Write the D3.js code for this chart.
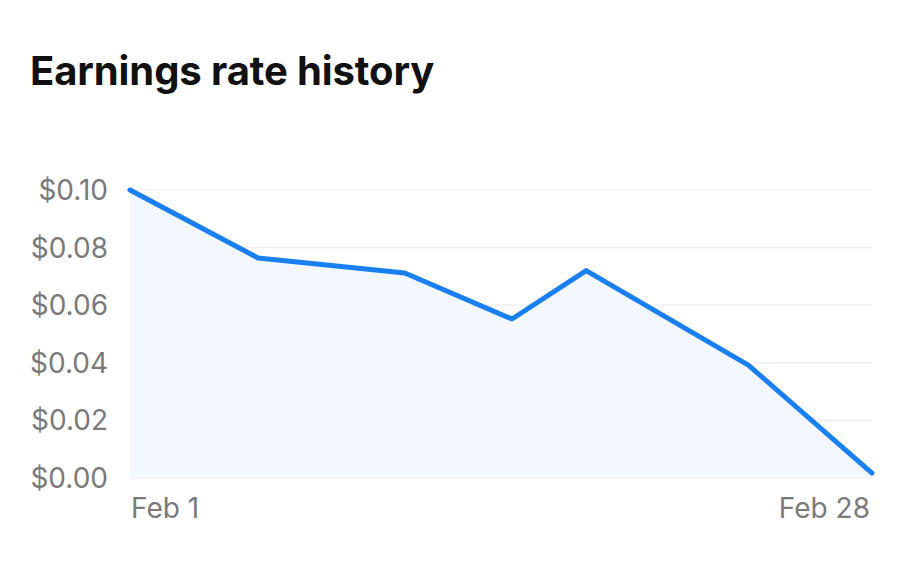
<!DOCTYPE html>
<html>
<head>
<meta charset="utf-8">
<script src="https://cdn.jsdelivr.net/npm/d3@7"></script>
<style>
  html, body { margin: 0; padding: 0; background: #fff; }
  svg { display: block; }
</style>
</head>
<body>
<svg id="chart" width="900" height="570"></svg>
<script>
// Data (day of February, earnings rate in $)
const days = [1, 5.66, 11.0, 14.9, 17.6, 23.5, 28];
const rates = [0.100, 0.0764, 0.0712, 0.0552, 0.0720, 0.0392, 0.0017];
const yTicks = [0, 0.02, 0.04, 0.06, 0.08, 0.10];
const xTickDays = [1, 28];
const xTickLabels = ["Feb 1", "Feb 28"];
const title = "Earnings rate history";

(function () {
const svg = d3.select("#chart");
const pLeft = 130, pRight = 872, pTop = 190, pBottom = 478;

const x = d3.scaleLinear().domain([1, 28]).range([pLeft, pRight]);
const y = d3.scaleLinear().domain([0, 0.10]).range([pBottom, pTop]);

const data = days.map((d, i) => ({ d, v: rates[i] }));

svg.append("text")
  .attr("x", 30).attr("y", 85)
  .attr("font-family", "Inter, 'Liberation Sans', sans-serif")
  .attr("font-weight", 700)
  .attr("font-size", 40)
  .attr("letter-spacing", -0.1)
  .attr("fill", "#111")
  .text(title);

// gridlines
svg.append("g").selectAll("line").data(yTicks).join("line")
  .attr("x1", pLeft).attr("x2", pRight)
  .attr("y1", d => y(d)).attr("y2", d => y(d))
  .attr("stroke", "#ececec").attr("stroke-width", 1.2);

// area
svg.append("path").datum(data)
  .attr("d", d3.area().x(p => x(p.d)).y0(y(0)).y1(p => y(p.v)))
  .attr("fill", "#f3f8fe");

// line
svg.append("path").datum(data)
  .attr("d", d3.line().x(p => x(p.d)).y(p => y(p.v)))
  .attr("fill", "none")
  .attr("stroke", "#1a80f2")
  .attr("stroke-width", 5)
  .attr("stroke-linejoin", "round")
  .attr("stroke-linecap", "round");

// y labels
const fmt = d3.format("$.2f");
svg.append("g").selectAll("text").data(yTicks).join("text")
  .attr("x", 108).attr("y", d => y(d))
  .attr("dy", "0.36em")
  .attr("text-anchor", "end")
  .attr("font-family", "Inter, 'Liberation Sans', sans-serif")
  .attr("font-size", 28)
  .attr("fill", "#7a7a7a")
  .text(d => fmt(d));

// x labels
svg.append("g").selectAll("text").data(xTickDays).join("text")
  .attr("x", (d, i) => i === 0 ? x(d) + 1 : x(d) - 2)
  .attr("y", 518)
  .attr("text-anchor", (d, i) => i === 0 ? "start" : "end")
  .attr("font-family", "Inter, 'Liberation Sans', sans-serif")
  .attr("font-size", 28)
  .attr("fill", "#7a7a7a")
  .text((d, i) => xTickLabels[i]);
})();
</script>
</body>
</html>
